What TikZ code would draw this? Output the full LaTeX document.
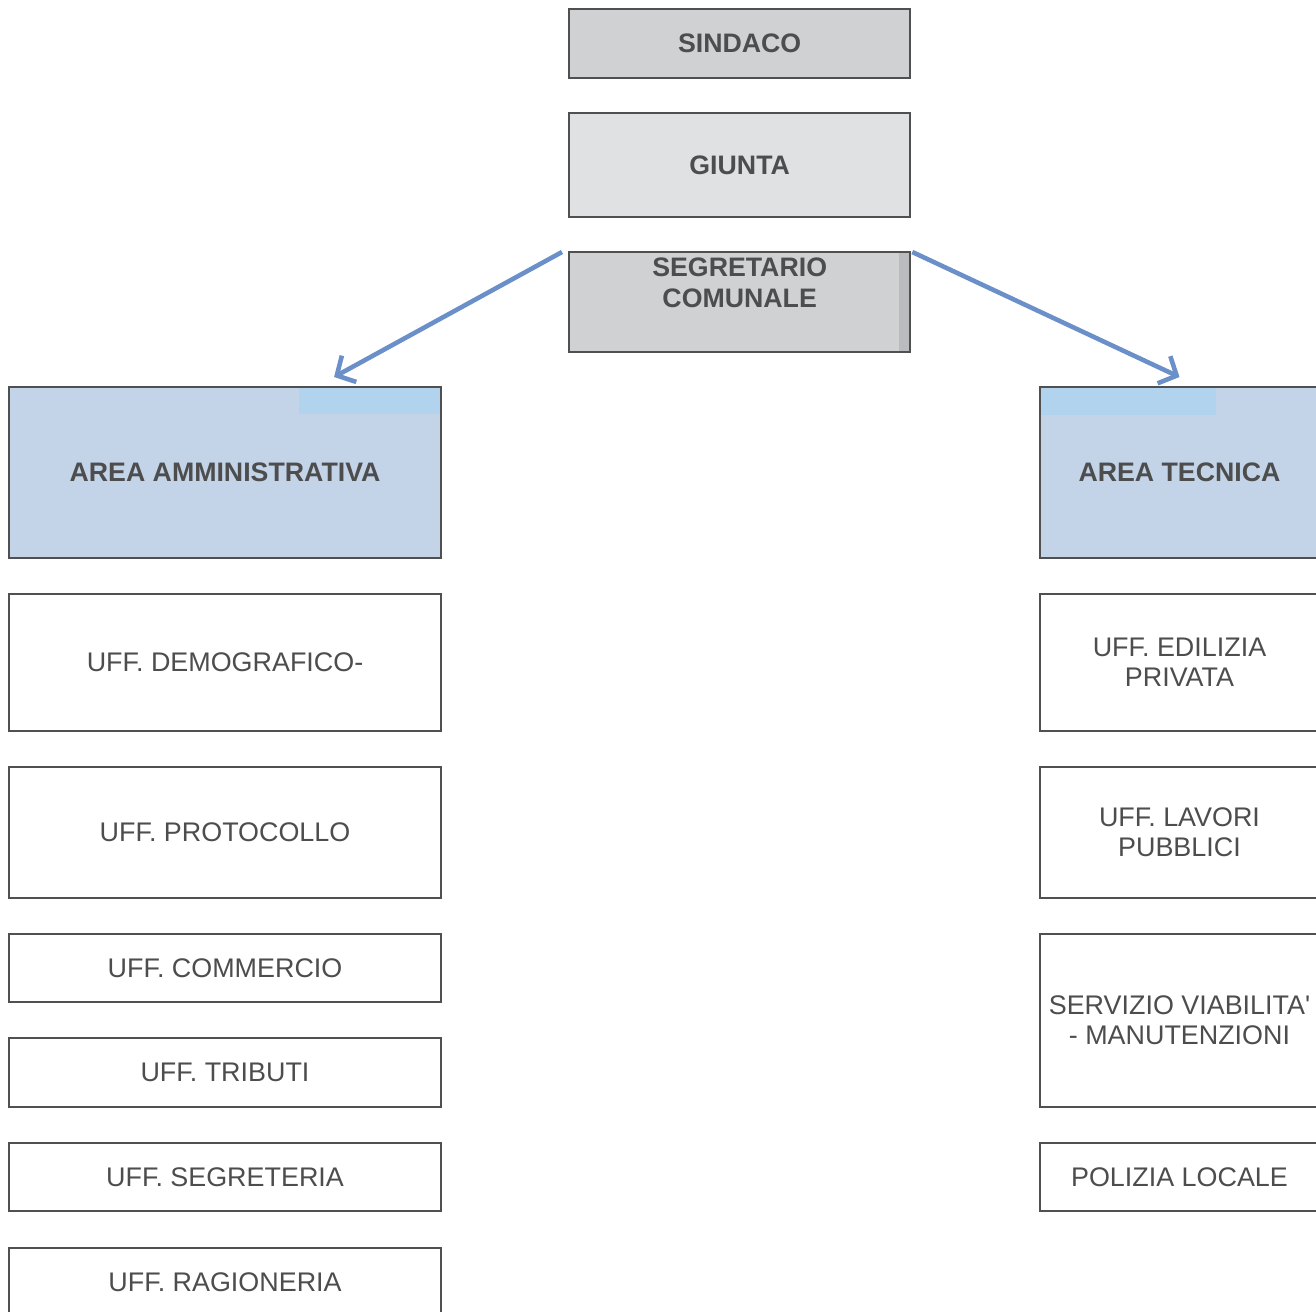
\documentclass[tikz,border=0pt]{standalone}
\usepackage{fontspec}
\setmainfont{Liberation Sans}
\usetikzlibrary{arrows.meta}

\definecolor{capogray}{HTML}{D0D1D3}
\definecolor{giuntagray}{HTML}{E0E1E3}
\definecolor{stripgray}{HTML}{B9BBBE}
\definecolor{areablue}{HTML}{C3D4E9}
\definecolor{stripblue}{HTML}{B2D3EE}
\definecolor{arrowblue}{HTML}{6A8FC9}
\definecolor{boxline}{HTML}{505050}
\definecolor{txtgray}{HTML}{4D4D4D}

\tikzset{
  capo/.style={draw=boxline, line width=0.6pt, fill=capogray, text=txtgray,
    font=\fontsize{7.6}{8.8}\selectfont\bfseries, align=center,
    inner sep=0pt, minimum width=3.41cm, anchor=north west},
  area/.style={draw=boxline, line width=0.5pt, fill=areablue, text=txtgray,
    font=\fontsize{7.6}{8.8}\selectfont\bfseries, align=center,
    inner sep=0pt, minimum height=1.71cm, anchor=north west},
  ufficio/.style={draw=boxline, line width=0.5pt, fill=white, text=txtgray,
    font=\fontsize{7.65}{8.5}\selectfont, align=center, inner sep=0pt,
    anchor=north west},
  sinistra/.style={ufficio, minimum width=4.32cm},
  destra/.style={ufficio, minimum width=2.79cm},
  freccia/.style={draw=arrowblue, line width=1.3pt,
    -{Straight Barb[length=0.14cm, width=0.3cm, line width=1.3pt]}}
}

\begin{document}
\begin{tikzpicture}[x=0.01cm, y=-0.01cm]
  \useasboundingbox (0,0) rectangle (1316,1311);
  \clip (0,0) rectangle (1316,1311);

  % vertice
  \node[capo, minimum height=0.69cm] (sindaco) at (568,8) {SINDACO};
  \node[capo, fill=giuntagray, minimum height=1.04cm] (giunta) at (568,112) {GIUNTA};
  \node[capo, minimum height=1.00cm,
    path picture={\fill[stripgray] ([xshift=-0.11cm]path picture bounding box.north east)
      rectangle (path picture bounding box.south east);},
    label={[anchor=north, inner sep=0pt, yshift=-0.06cm, align=center, text=txtgray,
      font=\fontsize{7.6}{8.8}\selectfont\bfseries]north:SEGRETARIO\\COMUNALE}]
    (segretario) at (568,251) {};

  % aree
  \node[area, minimum width=4.32cm,
    path picture={\fill[stripblue] ([xshift=-1.42cm]path picture bounding box.north east)
      rectangle ([yshift=-0.27cm]path picture bounding box.north east);}]
    (areaamm) at (8,386) {AREA AMMINISTRATIVA};
  \node[area, minimum width=2.79cm,
    path picture={\fill[stripblue] (path picture bounding box.north west)
      rectangle ([xshift=1.76cm, yshift=-0.28cm]path picture bounding box.north west);}]
    (areatec) at (1039,386) {AREA TECNICA};

  % uffici area amministrativa
  \node[sinistra, minimum height=1.37cm] (demo) at (8,593) {UFF. DEMOGRAFICO-};
  \node[sinistra, minimum height=1.31cm] (proto) at (8,766) {UFF. PROTOCOLLO};
  \node[sinistra, minimum height=0.68cm] (comm) at (8,933) {UFF. COMMERCIO};
  \node[sinistra, minimum height=0.69cm] (trib) at (8,1037) {UFF. TRIBUTI};
  \node[sinistra, minimum height=0.68cm] (segr) at (8,1142) {UFF. SEGRETERIA};
  \node[sinistra, minimum height=0.69cm] (rag) at (8,1247) {UFF. RAGIONERIA};

  % uffici area tecnica
  \node[destra, minimum height=1.37cm] (edil) at (1039,593) {UFF. EDILIZIA\\PRIVATA};
  \node[destra, minimum height=1.31cm] (lavori) at (1039,766) {UFF. LAVORI\\PUBBLICI};
  \node[destra, minimum height=1.73cm] (viab) at (1039,933) {SERVIZIO VIABILITA\textquotesingle\\- MANUTENZIONI};
  \node[destra, minimum height=0.68cm] (polizia) at (1039,1142) {POLIZIA LOCALE};

  % frecce
  \draw[freccia] ([xshift=-0.06cm, yshift=-0.01cm]segretario.north west)
    -- ([xshift=1.09cm, yshift=0.09cm]areaamm.north);
  \draw[freccia] ([xshift=0.01cm, yshift=-0.01cm]segretario.north east)
    -- ([yshift=0.09cm]areatec.north);
\end{tikzpicture}
\end{document}
